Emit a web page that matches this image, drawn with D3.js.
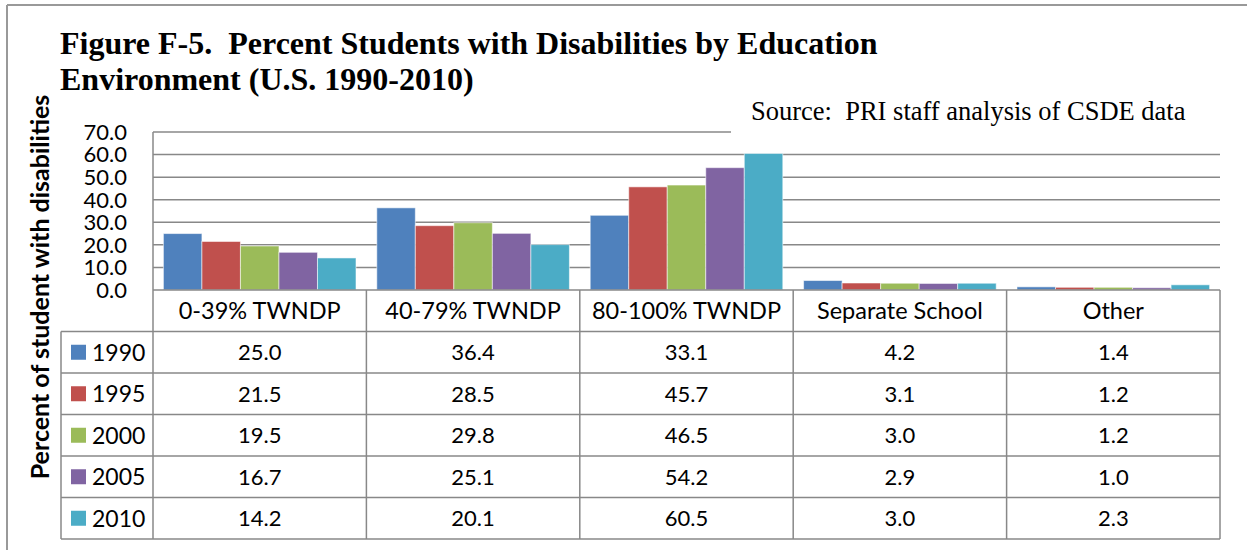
<!DOCTYPE html>
<html>
<head>
<meta charset="utf-8">
<script src="https://cdn.jsdelivr.net/npm/d3@7"></script>
<style>
  body { margin: 0; background: #fff; }
  svg { display: block; }
  .title { font-family: "Liberation Serif", "Times New Roman", serif; font-weight: bold; font-size: 32px; fill: #000; white-space: pre; }
  .source { font-family: "Liberation Serif", "Times New Roman", serif; font-size: 26.5px; fill: #000; white-space: pre; }
  .lbl { font-family: Lato, "Open Sans", sans-serif; font-size: 22px; fill: #000; }
  .year { font-family: Lato, "Open Sans", sans-serif; font-size: 23px; fill: #000; }
  .cat { font-family: Lato, "Open Sans", sans-serif; font-size: 23.5px; fill: #000; }
  .ytitle { font-family: Lato, "Open Sans", sans-serif; font-weight: bold; font-size: 25px; fill: #000; }
</style>
</head>
<body>
<svg width="1247" height="550"></svg>
<script>
'use strict';

const categories = ["0-39% TWNDP", "40-79% TWNDP", "80-100% TWNDP", "Separate School", "Other"];
const years = ["1990", "1995", "2000", "2005", "2010"];
const colors = ["#4F81BD", "#C0504D", "#9BBB59", "#8064A2", "#4BACC6"];
const values1990 = [25.0, 36.4, 33.1, 4.2, 1.4];
const values1995 = [21.5, 28.5, 45.7, 3.1, 1.2];
const values2000 = [19.5, 29.8, 46.5, 3.0, 1.2];
const values2005 = [16.7, 25.1, 54.2, 2.9, 1.0];
const values2010 = [14.2, 20.1, 60.5, 3.0, 2.3];
const yTicks = [0, 10, 20, 30, 40, 50, 60, 70];

const series = [values1990, values1995, values2000, values2005, values2010]
  .map((vals, i) => ({ year: years[i], color: colors[i], vals }));

const svg = d3.select('svg');
const gridColor = "#888";

const plot = { left: 153, right: 1220, top: 132, bottom: 290 };
const rowH = 41.5;
const legendLeft = 61;

const x = d3.scaleBand().domain(categories).range([plot.left, plot.right]);
const xi = d3.scaleBand().domain(years).range([0, x.bandwidth()]).paddingOuter(0.27);
const y = d3.scaleLinear().domain([0, 70]).range([plot.bottom, plot.top]);

// outer frame (only top and left visible)
svg.append('line').attr('x1', 7).attr('x2', 1247).attr('y1', 5).attr('y2', 5)
  .attr('stroke', '#999').attr('stroke-width', 2);
svg.append('line').attr('x1', 7).attr('x2', 7).attr('y1', 5).attr('y2', 550)
  .attr('stroke', '#999').attr('stroke-width', 2);

// gridlines
svg.append('g').selectAll('line').data(yTicks.slice(1)).enter().append('line')
  .attr('x1', plot.left).attr('x2', plot.right)
  .attr('y1', d => y(d)).attr('y2', d => y(d))
  .attr('stroke', gridColor).attr('stroke-width', 1.5);

// y axis line
svg.append('line').attr('x1', plot.left).attr('x2', plot.left)
  .attr('y1', plot.top).attr('y2', plot.bottom)
  .attr('stroke', gridColor).attr('stroke-width', 1.5);

// y tick labels
svg.append('g').selectAll('text').data(yTicks).enter().append('text')
  .attr('class', 'lbl')
  .attr('x', 127).attr('y', d => y(d)).attr('dy', '0.36em')
  .attr('text-anchor', 'end')
  .text(d => d.toFixed(1));

// bars
const groups = svg.append('g').selectAll('g').data(series).enter().append('g')
  .attr('fill', d => d.color);
groups.selectAll('rect')
  .data(s => s.vals.map((v, j) => ({ cat: categories[j], year: s.year, v })))
  .enter().append('rect')
  .attr('x', d => x(d.cat) + xi(d.year))
  .attr('width', xi.bandwidth())
  .attr('y', d => y(d.v))
  .attr('height', d => y(0) - y(d.v))
  .attr('stroke', 'rgba(255,255,255,0.55)')
  .attr('stroke-width', 1);

// table grid
const tableBottom = plot.bottom + rowH * 6;
const tbl = svg.append('g').attr('stroke', gridColor).attr('stroke-width', 1.5);
tbl.append('line').attr('x1', plot.left).attr('x2', plot.right)
  .attr('y1', plot.bottom).attr('y2', plot.bottom);
d3.range(1, 7).forEach(r => {
  tbl.append('line').attr('x1', legendLeft).attr('x2', plot.right)
    .attr('y1', plot.bottom + r * rowH).attr('y2', plot.bottom + r * rowH);
});
tbl.append('line').attr('x1', legendLeft).attr('x2', legendLeft)
  .attr('y1', plot.bottom + rowH).attr('y2', tableBottom);
categories.forEach(c => {
  tbl.append('line').attr('x1', x(c)).attr('x2', x(c))
    .attr('y1', plot.bottom).attr('y2', tableBottom);
});
tbl.append('line').attr('x1', plot.right).attr('x2', plot.right)
  .attr('y1', plot.bottom).attr('y2', tableBottom);

// category headers
svg.append('g').selectAll('text').data(categories).enter().append('text')
  .attr('class', 'cat')
  .attr('x', d => x(d) + x.bandwidth() / 2)
  .attr('y', plot.bottom + rowH / 2).attr('dy', '0.36em')
  .attr('text-anchor', 'middle')
  .text(d => d);

// data rows
series.forEach((s, i) => {
  const cy = plot.bottom + rowH * (i + 1) + rowH / 2;
  svg.append('rect').attr('x', 71).attr('y', cy - 7.5).attr('width', 15).attr('height', 15)
    .attr('fill', s.color);
  svg.append('text').attr('class', 'year').attr('x', 92).attr('y', cy).attr('dy', '0.36em')
    .text(s.year);
  svg.append('g').selectAll('text').data(s.vals).enter().append('text')
    .attr('class', 'lbl')
    .attr('x', (d, j) => x(categories[j]) + x.bandwidth() / 2)
    .attr('y', cy).attr('dy', '0.36em')
    .attr('text-anchor', 'middle')
    .text(d => d.toFixed(1));
});

// y axis title
svg.append('text').attr('class', 'ytitle')
  .attr('transform', 'translate(49,287) rotate(-90)')
  .attr('text-anchor', 'middle')
  .text('Percent of student with disabilities');

// source box covers the top gridline on the right
svg.append('rect').attr('x', 731).attr('y', 96).attr('width', 495).attr('height', 40).attr('fill', '#fff');
svg.append('text').attr('class', 'source').attr('x', 751).attr('y', 120)
  .text('Source:  PRI staff analysis of CSDE data');

// title
const title = svg.append('text').attr('class', 'title');
title.append('tspan').attr('x', 60).attr('y', 54)
  .text('Figure F-5.  Percent Students with Disabilities by Education');
title.append('tspan').attr('x', 60).attr('y', 90)
  .text('Environment (U.S. 1990-2010)');
</script>
</body>
</html>
